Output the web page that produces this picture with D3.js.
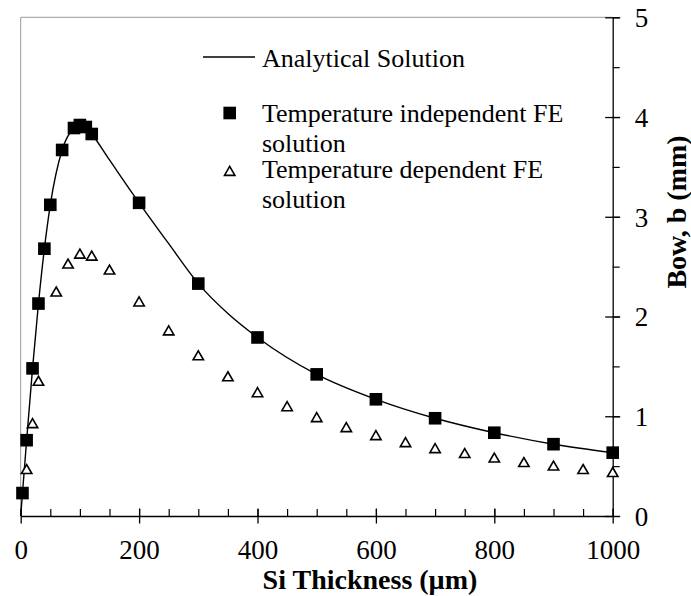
<!DOCTYPE html>
<html>
<head>
<meta charset="utf-8">
<script src="https://cdn.jsdelivr.net/npm/d3@7"></script>
<style>
    body { margin: 0; background: #fff; }
    text { font-family: "Liberation Serif", "Times New Roman", serif; fill: #000; }
</style>
</head>
<body>
<div id="chart"></div>
<script>
// Data
const xTicks = [0, 200, 400, 600, 800, 1000];
const yTicks = [0, 1, 2, 3, 4, 5];

const thickness_analytic = [0, 3, 10, 20, 30, 40, 50, 70, 90, 100, 110, 120, 150, 200, 250, 300, 350, 400, 500, 600, 700, 800, 900, 1000];
const bow_analytic = [0, 0.23, 0.76, 1.48, 2.13, 2.68, 3.12, 3.67, 3.89, 3.92, 3.90, 3.83, 3.57, 3.14, 2.73, 2.33, 2.03, 1.79, 1.42, 1.17, 0.98, 0.835, 0.72, 0.635];

const thickness_indep = [3, 10, 20, 30, 40, 50, 70, 90, 100, 110, 120, 200, 300, 400, 500, 600, 700, 800, 900, 1000];
const bow_indep = [0.23, 0.76, 1.48, 2.13, 2.68, 3.12, 3.67, 3.89, 3.92, 3.90, 3.83, 3.14, 2.33, 1.79, 1.42, 1.17, 0.98, 0.835, 0.72, 0.635];

const thickness_dep = [10, 20, 30, 60, 80, 100, 120, 150, 200, 250, 300, 350, 400, 450, 500, 550, 600, 650, 700, 750, 800, 850, 900, 950, 1000];
const bow_dep = [0.47, 0.93, 1.355, 2.25, 2.53, 2.63, 2.61, 2.47, 2.15, 1.86, 1.61, 1.40, 1.24, 1.10, 0.99, 0.89, 0.81, 0.74, 0.68, 0.63, 0.585, 0.54, 0.505, 0.47, 0.44];

const width = 691, height = 596;
const plot = { left: 20.7, right: 612.7, top: 17.3, bottom: 516 };

const svg = d3.select("#chart").append("svg")
    .attr("width", width)
    .attr("height", height);

// Scales
const x = d3.scaleLinear().domain([0, 1000]).range([plot.left, plot.right]);
const y = d3.scaleLinear().domain([0, 5]).range([plot.bottom, plot.top]);

// Grey frame (top and left)
svg.append("line")
    .attr("x1", plot.left).attr("x2", plot.right)
    .attr("y1", plot.top).attr("y2", plot.top)
    .attr("stroke", "#999").attr("stroke-width", 1);
svg.append("line")
    .attr("x1", plot.left).attr("x2", plot.left)
    .attr("y1", plot.top).attr("y2", plot.bottom)
    .attr("stroke", "#999").attr("stroke-width", 1);

// X axis: minor ticks inside, major ticks crossing
svg.append("g")
    .attr("class", "x-minor")
    .attr("transform", `translate(0, ${plot.bottom})`)
    .call(d3.axisBottom(x).tickValues(d3.range(0, 1001, 50)).tickSize(-7).tickFormat(""))
    .call(g => g.select(".domain").remove())
    .selectAll("line").attr("stroke", "#000").attr("stroke-width", 1.2);

const xAxis = svg.append("g")
    .attr("class", "x-axis")
    .attr("transform", `translate(0, ${plot.bottom})`)
    .call(d3.axisBottom(x).tickValues(xTicks).tickSizeInner(7.5).tickSizeOuter(0).tickFormat(d3.format("d")));
xAxis.select(".domain").attr("stroke", "#000").attr("stroke-width", 1.3);
xAxis.selectAll(".tick line").attr("y1", -7.5).attr("stroke", "#000").attr("stroke-width", 1.3);
xAxis.selectAll(".tick text")
    .attr("y", 43).attr("dy", 0)
    .style("font-family", "Liberation Serif")
    .style("font-size", "27px");

// Right Y axis: minor ticks outside, major ticks crossing
svg.append("g")
    .attr("class", "y-minor")
    .attr("transform", `translate(${plot.right}, 0)`)
    .call(d3.axisRight(y).tickValues(d3.range(0, 5.01, 0.5)).tickSize(7).tickFormat(""))
    .call(g => g.select(".domain").remove())
    .selectAll("line").attr("stroke", "#000").attr("stroke-width", 1.2);

const yAxis = svg.append("g")
    .attr("class", "y-axis")
    .attr("transform", `translate(${plot.right}, 0)`)
    .call(d3.axisRight(y).tickValues(yTicks).tickSizeInner(7.5).tickSizeOuter(0).tickFormat(d3.format("d")));
yAxis.select(".domain").attr("stroke", "#000").attr("stroke-width", 1.3);
yAxis.selectAll(".tick line").attr("x1", -7.5).attr("stroke", "#000").attr("stroke-width", 1.3);
yAxis.selectAll(".tick text")
    .attr("x", 22).attr("dy", "0.35em")
    .attr("text-anchor", "start")
    .style("font-family", "Liberation Serif")
    .style("font-size", "27px");

// Analytical solution line
const line = d3.line()
    .x(d => x(d[0]))
    .y(d => y(d[1]))
    .curve(d3.curveMonotoneX);

svg.append("path")
    .datum(d3.zip(thickness_analytic, bow_analytic))
    .attr("fill", "none")
    .attr("stroke", "#000")
    .attr("stroke-width", 1.4)
    .attr("d", line);

// Temperature dependent FE (open triangles)
const triPath = "M0,-4.6L5.2,4.4L-5.2,4.4Z";
svg.selectAll(".tri")
    .data(d3.zip(thickness_dep, bow_dep))
    .enter()
    .append("path")
    .attr("class", "tri")
    .attr("transform", d => `translate(${x(d[0])}, ${y(d[1])})`)
    .attr("d", triPath)
    .attr("fill", "#fff")
    .attr("stroke", "#000")
    .attr("stroke-width", 1.6);

// Temperature independent FE (filled squares)
const sq = 12.6;
svg.selectAll(".sq")
    .data(d3.zip(thickness_indep, bow_indep))
    .enter()
    .append("rect")
    .attr("class", "sq")
    .attr("x", d => x(d[0]) - sq / 2)
    .attr("y", d => y(d[1]) - sq / 2)
    .attr("width", sq)
    .attr("height", sq)
    .attr("fill", "#000");

// Legend
const legend = svg.append("g").attr("class", "legend");
legend.append("line")
    .attr("x1", 203).attr("x2", 255)
    .attr("y1", 57).attr("y2", 57)
    .attr("stroke", "#000").attr("stroke-width", 1.4);
legend.append("rect")
    .attr("x", 229.7 - sq / 2).attr("y", 113 - sq / 2)
    .attr("width", sq).attr("height", sq)
    .attr("fill", "#000");
legend.append("path")
    .attr("transform", "translate(229.7, 171)")
    .attr("d", triPath)
    .attr("fill", "#fff")
    .attr("stroke", "#000")
    .attr("stroke-width", 1.6);

legend.selectAll("text")
    .data([
        ["Analytical Solution", 66.7],
        ["Temperature independent FE", 121.7],
        ["solution", 151.7],
        ["Temperature dependent FE", 177.5],
        ["solution", 207.5]
    ])
    .enter()
    .append("text")
    .attr("x", 262)
    .attr("y", d => d[1])
    .style("font-size", "26px")
    .text(d => d[0]);

// Axis titles
svg.append("text")
    .attr("x", 370)
    .attr("y", 589)
    .attr("text-anchor", "middle")
    .style("font-size", "28px")
    .style("font-weight", "bold")
    .text("Si Thickness (µm)");

svg.append("text")
    .attr("transform", "translate(686, 212) rotate(-90)")
    .attr("text-anchor", "middle")
    .style("font-size", "28px")
    .style("font-weight", "bold")
    .text("Bow, b (mm)");
</script>
</body>
</html>
